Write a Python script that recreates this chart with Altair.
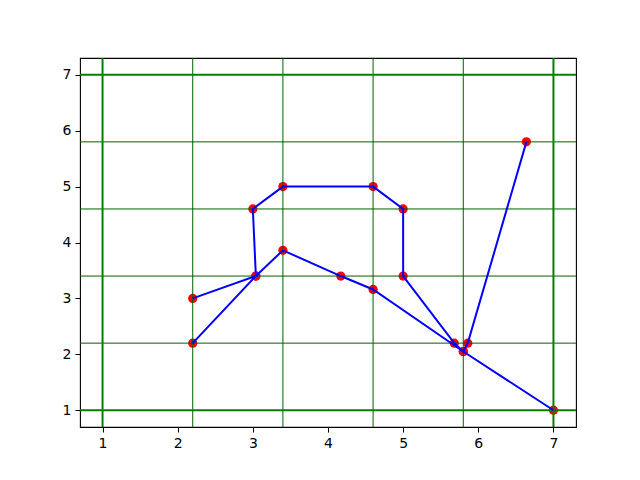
import altair as alt
import pandas as pd

# path 1
p1_x = [2.2, 3.04, 3.0, 3.4, 4.6, 5.0, 5.0, 5.68, 5.8, 5.86, 6.64]
p1_y = [3.0, 3.4, 4.6, 5.0, 5.0, 4.6, 3.4, 2.2, 2.05, 2.2, 5.8]
# path 2
p2_x = [2.2, 3.04, 3.4, 4.17, 4.6, 5.8, 7.0]
p2_y = [2.2, 3.4, 3.86, 3.4, 3.16, 2.05, 1.0]

thin_lines = [2.2, 3.4, 4.6, 5.8]
thick_lines = [1.0, 7.0]
ticks = [1, 2, 3, 4, 5, 6, 7]

rows = []
for i, (x, y) in enumerate(zip(p1_x, p1_y)):
    rows.append({"x": x, "y": y, "path": "a", "order": i})
for i, (x, y) in enumerate(zip(p2_x, p2_y)):
    rows.append({"x": x, "y": y, "path": "b", "order": i})
df = pd.DataFrame(rows)

xs = alt.Scale(domain=[0.7, 7.3], nice=False, zero=False)
ys = alt.Scale(domain=[0.7, 7.3], nice=False, zero=False)

axis_common = dict(values=ticks, grid=False, domain=False, ticks=True, tickColor="black",
                   tickSize=5, tickWidth=1, labelFont="DejaVu Sans", labelFontSize=14,
                   labelColor="black", labelPadding=4, title=None, format="d")

xa = alt.Axis(**axis_common)
ya = alt.Axis(**axis_common)

thin_df = pd.DataFrame({"v": thin_lines})
thick_df = pd.DataFrame({"v": thick_lines})

points = alt.Chart(df).mark_circle(color="red", opacity=1, size=85).encode(
    x=alt.X("x:Q", scale=xs, axis=xa), y=alt.Y("y:Q", scale=ys, axis=ya))
lines = alt.Chart(df).mark_line(color="blue", strokeWidth=2).encode(
    x=alt.X("x:Q", scale=xs, axis=xa), y=alt.Y("y:Q", scale=ys, axis=ya),
    detail="path:N", order="order:Q")

v_thin = alt.Chart(thin_df).mark_rule(color="#006000", strokeWidth=1).encode(
    x=alt.X("v:Q", scale=xs, axis=xa))
h_thin = alt.Chart(thin_df).mark_rule(color="#006000", strokeWidth=1).encode(
    y=alt.Y("v:Q", scale=ys, axis=ya))
v_thick = alt.Chart(thick_df).mark_rule(color="green", strokeWidth=2).encode(
    x=alt.X("v:Q", scale=xs, axis=xa))
h_thick = alt.Chart(thick_df).mark_rule(color="green", strokeWidth=2).encode(
    y=alt.Y("v:Q", scale=ys, axis=ya))

chart = alt.layer(points, v_thin, h_thin, v_thick, h_thick, lines).properties(
    width=496, height=369,
    background="white",
    autosize=alt.AutoSizeParams(type="none"),
    padding={"left": 72, "top": 50, "right": 56, "bottom": 45},
).configure_view(stroke="black", strokeWidth=1.1)

chart.save("out.html", embed_options={"renderer": "svg", "actions": False})
